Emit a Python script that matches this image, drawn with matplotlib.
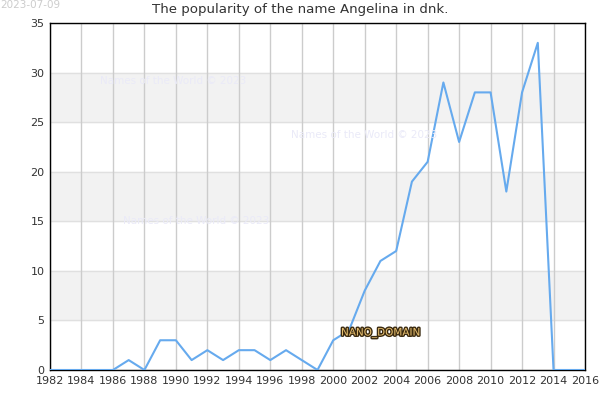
import matplotlib
matplotlib.use("Agg")
import matplotlib.pyplot as plt
import matplotlib.patheffects as pe

years = list(range(1982, 2017))
counts = [0, 0, 0, 0, 0, 1, 0, 3, 3, 1, 2, 1, 2, 2, 1, 2, 1, 0, 3, 4,
          8, 11, 12, 19, 21, 29, 23, 28, 28, 18, 28, 33, 0, 0, 0]
xticks = list(range(1982, 2017, 2))
yticks = list(range(0, 36, 5))
title = "The popularity of the name Angelina in dnk."

fig = plt.figure(figsize=(6, 4), dpi=100)
ax = fig.add_axes([50/600, 30/400, 535/600, 347/400])
ax.set_xlim(1982, 2016)
ax.set_ylim(0, 35)

for i in range(len(yticks) - 1):
    if i % 2 == 1:
        ax.axhspan(yticks[i], yticks[i+1], color="#f2f2f2", zorder=0)
for y in yticks:
    ax.axhline(y, color="#e0e0e0", lw=1, zorder=1)
for x in xticks:
    ax.axvline(x, color="#cccccc", lw=1, zorder=1)

ax.plot(years, counts, color="#66aaee", lw=1.5, zorder=3)

ax.set_xticks(xticks)
ax.set_yticks(yticks)
ax.tick_params(labelsize=8, length=0, colors="#333333", pad=4)
for s in ax.spines.values():
    s.set_color("black")
    s.set_linewidth(1)

fig.text(0.5, 1 - 10/400, title, ha="center", va="center", fontsize=9.6, color="#333333")
fig.text(0, 1, "2023-07-09", ha="left", va="top", fontsize=7.5, color="#cccccc")

wm = dict(fontsize=7.5, color="#eaeaf8", ha="left", va="center", zorder=2)
fig.text(100/600, 1 - 81/400, "Names of the World © 2023", **wm)
fig.text(291/600, 1 - 135/400, "Names of the World © 2023", **wm)
fig.text(123/600, 1 - 221/400, "Names of the World © 2023", **wm)

t = fig.text(341/600, 1 - 333/400, "NANO_DOMAIN", ha="left", va="center", fontsize=7.5,
             color="#e8c070", zorder=5)
t.set_path_effects([pe.withStroke(linewidth=2, foreground="#3a2a10")])

fig.savefig("out.png", dpi=100)
